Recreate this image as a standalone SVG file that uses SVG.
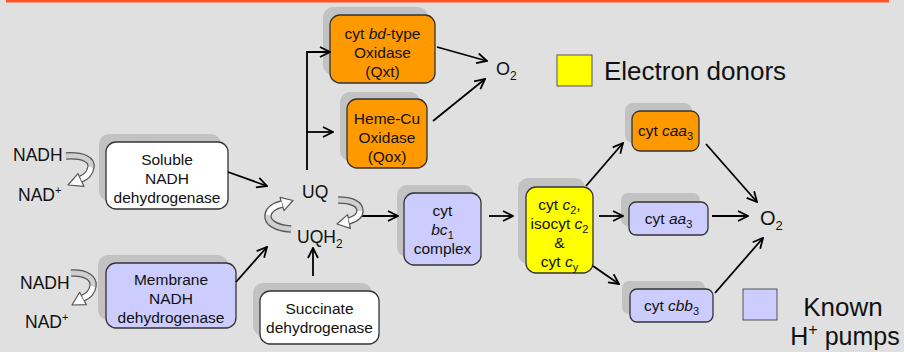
<svg xmlns="http://www.w3.org/2000/svg" width="904" height="352" viewBox="0 0 904 352">
<style>
text{font-family:"Liberation Sans",Arial,sans-serif;fill:#111}
.n{font-size:15.5px;text-anchor:middle}
.sh{fill:#c2c2c2}
.bx{stroke:#333;stroke-width:1.3}
.or{fill:#ff9900}.bl{fill:#ccccff}.ye{fill:#ffff00}.wh{fill:#ffffff}
.c{fill:none;stroke:#000;stroke-width:1.8}
.ol{fill:none;stroke:#555;stroke-width:7.5}
.gr{fill:none;stroke:#cfcfcf;stroke-width:5}
.wt{fill:none;stroke:#fff;stroke-width:5}
.ah{fill:#fff;stroke:#555;stroke-width:1.2;stroke-linejoin:round}
.i{font-style:italic}
</style>
<defs>
<marker id="a" viewBox="0 0 12 12" refX="11" refY="6" markerWidth="12" markerHeight="12" markerUnits="userSpaceOnUse" orient="auto">
<path d="M1,1 L11,6 L1,11" fill="none" stroke="#000" stroke-width="1.8"/>
</marker>
</defs>
<rect width="904" height="352" fill="#e0e0e0"/>
<rect x="6" y="0" width="883" height="2.5" fill="#ff5522"/>

<g id="bdOx">
<rect class="sh" x="323" y="7" width="105" height="68" rx="10"/>
<rect class="bx or" x="330" y="15" width="105" height="68" rx="10"/>
<text class="n" x="382.5" y="39">cyt <tspan class="i">bd</tspan>-type</text>
<text class="n" x="382.5" y="58">Oxidase</text>
<text class="n" x="382.5" y="77">(Qxt)</text>
</g>
<g id="hemeCu">
<rect class="sh" x="340" y="92" width="80" height="69" rx="10"/>
<rect class="bx or" x="347" y="99" width="80" height="69" rx="10"/>
<text class="n" x="387" y="124">Heme-Cu</text>
<text class="n" x="387" y="143">Oxidase</text>
<text class="n" x="387" y="162">(Qox)</text>
</g>
<g id="solNDH">
<rect class="sh" x="99" y="134" width="122" height="67" rx="10"/>
<rect class="bx wh" x="106" y="142" width="122" height="67" rx="10"/>
<text class="n" x="167" y="165">Soluble</text>
<text class="n" x="167" y="184">NADH</text>
<text class="n" x="167" y="203">dehydrogenase</text>
</g>
<g id="memNDH">
<rect class="sh" x="98" y="255" width="130" height="65" rx="10"/>
<rect class="bx bl" x="106" y="263" width="130" height="65" rx="10"/>
<text class="n" x="171" y="285">Membrane</text>
<text class="n" x="171" y="304">NADH</text>
<text class="n" x="171" y="323">dehydrogenase</text>
</g>
<g id="succ">
<rect class="sh" x="253" y="283" width="119" height="53" rx="10"/>
<rect class="bx wh" x="260" y="291" width="119" height="53" rx="10"/>
<text class="n" x="319.5" y="314">Succinate</text>
<text class="n" x="319.5" y="333">dehydrogenase</text>
</g>
<g id="bc1">
<rect class="sh" x="397" y="185" width="77" height="72" rx="10"/>
<rect class="bx bl" x="404" y="193" width="77" height="72" rx="10"/>
<text class="n" x="442.5" y="216">cyt</text>
<text class="n" x="442.5" y="235"><tspan class="i">bc</tspan><tspan font-size="11" dy="4">1</tspan></text>
<text class="n" x="442.5" y="254">complex</text>
</g>
<g id="c2">
<rect class="sh" x="518" y="178" width="67" height="86" rx="10"/>
<rect class="bx ye" x="526" y="187" width="67" height="86" rx="10"/>
<text class="n" x="559.5" y="210">cyt <tspan class="i">c</tspan><tspan font-size="11" dy="4">2</tspan><tspan dy="-4">,</tspan></text>
<text class="n" x="559.5" y="229">isocyt <tspan class="i">c</tspan><tspan font-size="11" dy="4">2</tspan></text>
<text class="n" x="559.5" y="248">&amp;</text>
<text class="n" x="559.5" y="267">cyt <tspan class="i">c</tspan><tspan font-size="11" dy="4">y</tspan></text>
</g>
<g id="caa3">
<rect class="sh" x="625" y="103" width="67" height="40" rx="8"/>
<rect class="bx or" x="632" y="111" width="67" height="40" rx="8"/>
<text class="n" x="665.5" y="136">cyt <tspan class="i">caa</tspan><tspan font-size="11" dy="4">3</tspan></text>
</g>
<g id="aa3">
<rect class="sh" x="621" y="193" width="79" height="33" rx="7"/>
<rect class="bx bl" x="629" y="202" width="79" height="33" rx="7"/>
<text class="n" x="668.5" y="224">cyt <tspan class="i">aa</tspan><tspan font-size="11" dy="4">3</tspan></text>
</g>
<g id="cbb3">
<rect class="sh" x="622" y="281" width="83" height="33" rx="7"/>
<rect class="bx bl" x="630" y="289" width="83" height="33" rx="7"/>
<text class="n" x="671.5" y="311">cyt <tspan class="i">cbb</tspan><tspan font-size="11" dy="4">3</tspan></text>
</g>

<g id="connectors">
<path class="c" d="M307,170 V52 H330" marker-end="url(#a)"/>
<path class="c" d="M307,132 H333" marker-end="url(#a)"/>
<path class="c" d="M437,47 L487,61" marker-end="url(#a)"/>
<path class="c" d="M433,121 L485,79" marker-end="url(#a)"/>
<path class="c" d="M228,172 L267,186" marker-end="url(#a)"/>
<path class="c" d="M236,282 L267,247" marker-end="url(#a)"/>
<path class="c" d="M313,276 V248" marker-end="url(#a)"/>
<path class="c" d="M361,216 H398" marker-end="url(#a)"/>
<path class="c" d="M489,216 H513" marker-end="url(#a)"/>
<path class="c" d="M586,186 L623,143" marker-end="url(#a)"/>
<path class="c" d="M599,216 H623" marker-end="url(#a)"/>
<path class="c" d="M593,266 L619,284" marker-end="url(#a)"/>
<path class="c" d="M706,144 L757,202" marker-end="url(#a)"/>
<path class="c" d="M712,216 H748" marker-end="url(#a)"/>
<path class="c" d="M715,293 L763,238" marker-end="url(#a)"/>
</g>

<g id="curved-arrows">
<path class="ol" d="M66,156 C84,155 92,160 91,167 C90,173 86,177 81,179"/>
<polygon class="ah" points="68,185 78,173.6 84,186.4"/>
<path class="gr" d="M66,156 C84,155 92,160 91,167"/>
<path class="wt" d="M91,167 C90,173 86,177 81,179"/>

<path class="ol" d="M71,273 C87,272 94,279 93,286 C92,292 88,296 83,298"/>
<polygon class="ah" points="72,305 79.6,292.3 86.4,304.7"/>
<path class="gr" d="M71,273 C87,272 94,279 93,286"/>
<path class="wt" d="M93,286 C92,292 88,296 83,298"/>

<path class="ol" d="M291,229 C275,228 267,222 268,215 C269,209 274,206 282,204"/>
<polygon class="ah" points="293,200.5 280,197.3 284,210.7"/>
<path class="gr" d="M291,229 C275,228 267,222 268,215"/>
<path class="wt" d="M268,215 C269,209 274,206 282,204"/>

<path class="ol" d="M338,200 C352,200 360,204 360,211 C360,216 355,219 349,221"/>
<polygon class="ah" points="337,224 347.6,214.6 350.4,228.4"/>
<path class="gr" d="M338,200 C352,200 360,204 360,211"/>
<path class="wt" d="M360,211 C360,216 355,219 349,221"/>
</g>

<g id="labels">
<text x="13" y="161" font-size="17.5">NADH</text>
<text x="18" y="201" font-size="17.5">NAD<tspan font-size="11" dy="-7">+</tspan></text>
<text x="20" y="289" font-size="17.5">NADH</text>
<text x="25" y="328" font-size="17.5">NAD<tspan font-size="11" dy="-7">+</tspan></text>
<text x="302" y="198" font-size="17.5">UQ</text>
<text x="297" y="243" font-size="17.5">UQH<tspan font-size="12" dy="5">2</tspan></text>
<text x="496" y="75" font-size="18">O<tspan font-size="12" dy="5">2</tspan></text>
<text x="760" y="225" font-size="20">O<tspan font-size="13" dy="5">2</tspan></text>
</g>

<g id="legend">
<rect x="557" y="55" width="35" height="31" fill="#ffff00" stroke="#555" stroke-width="1"/>
<text x="604" y="80" font-size="26">Electron donors</text>
<rect x="743" y="289" width="34" height="31" fill="#ccccff" stroke="#555" stroke-width="1"/>
<text x="843" y="316" font-size="26" text-anchor="middle">Known</text>
<text x="845" y="345" font-size="25" text-anchor="middle">H<tspan font-size="16" dy="-10">+</tspan><tspan dy="10"> pumps</tspan></text>
</g>
</svg>
